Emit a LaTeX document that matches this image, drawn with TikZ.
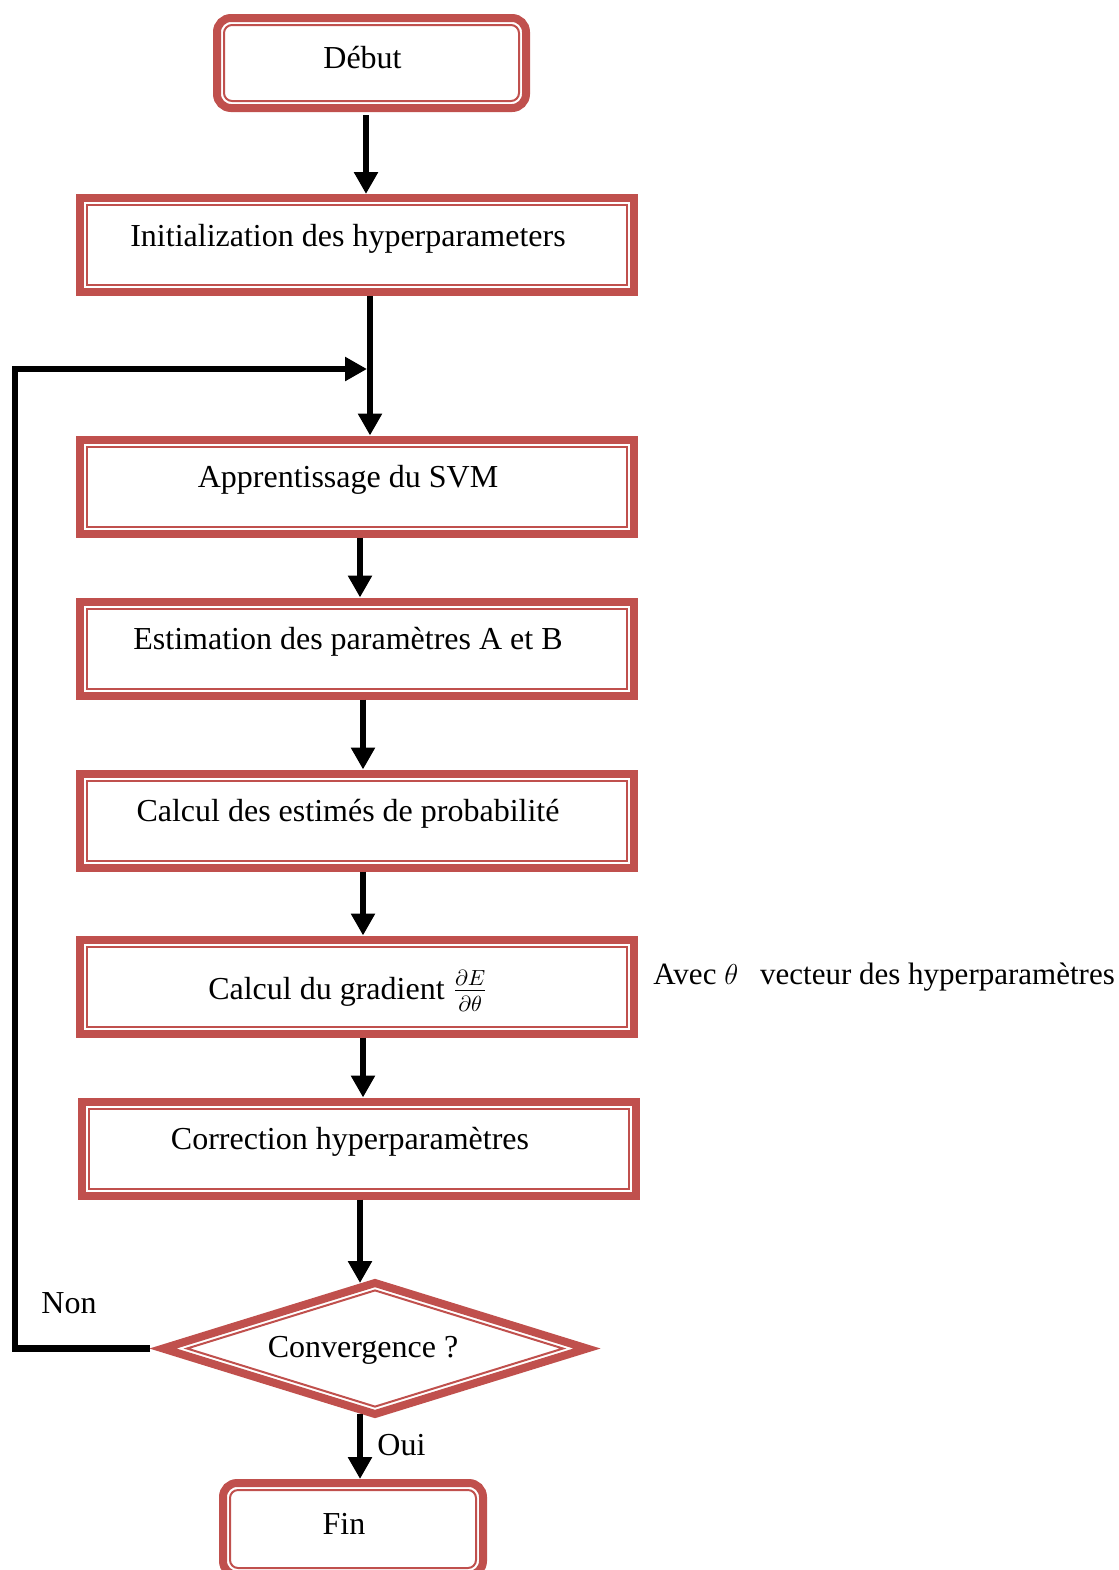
\documentclass[tikz,border=0pt]{standalone}
\usepackage{fontspec}
\setmainfont{Liberation Serif}
\usetikzlibrary{arrows.meta,shapes.geometric}
\definecolor{boxred}{HTML}{C0504D}
\tikzset{
  every node/.style={font=\fontsize{16pt}{19pt}\selectfont},
  stepbox/.style={draw=boxred, line width=4pt, outer sep=2pt, inner sep=0pt,
    minimum width=277pt, minimum height=47pt, text height=11.5pt, text depth=10.5pt,
    execute at end node={\hspace{9pt}}},
  termbox/.style={stepbox, rounded corners=7pt, text height=13.5pt, text depth=8.5pt},
  decision/.style={diamond, draw=boxred, line width=4pt, outer sep=0pt, inner sep=0pt,
    aspect=3.2, minimum width=212pt, minimum height=65.5pt,
    text height=14pt, text depth=5.5pt, execute at end node={\hspace{12pt}}},
  frameline/.style={draw=boxred, line width=1pt},
  arr/.style={line width=3.2pt, -{Triangle[length=11pt,width=11.5pt]}},
  plain/.style={anchor=base west, inner sep=0pt},
}
\begin{document}
\begin{tikzpicture}[x=0.5pt,y=-0.5pt]
\useasboundingbox (0,0) rectangle (1119,1570);
\clip (0,0) rectangle (1119,1570);

% process boxes
\node[termbox, minimum width=154.5pt, minimum height=45pt] (debut) at (371.5,63) {Début};
\node[stepbox] (init) at (357,245) {Initialization des hyperparameters};
\node[stepbox] (appr) at (357,486.5) {Apprentissage du SVM};
\node[stepbox] (estim) at (357,648.5) {Estimation des paramètres A et B};
\node[stepbox] (proba) at (357,820.5) {Calcul des estimés de probabilité};
\node[stepbox, text height=16.5pt, text depth=3.5pt] (grad) at (357,986.5)
  {Calcul du gradient $\frac{\partial E}{\partial\theta}$};
\node[stepbox] (corr) at (359,1148.5) {Correction hyperparamètres};
\node[decision] (conv) at (375,1348.5) {Convergence ?};
\node[termbox, minimum width=130pt, minimum height=46pt] (fin) at (353,1529) {Fin};

% thin inner outlines
\foreach \n in {init,appr,estim,proba,grad,corr}
  \draw[frameline] ([shift={(11,11)}]\n.north west) rectangle ([shift={(-11,-11)}]\n.south east);
\foreach \n in {debut,fin}
  \draw[frameline, rounded corners=4pt] ([shift={(11,11)}]\n.north west) rectangle ([shift={(-11,-11)}]\n.south east);
\draw[frameline] ([yshift=-3.7pt]conv.north) -- ([xshift=-12pt]conv.east)
  -- ([yshift=3.7pt]conv.south) -- ([xshift=12pt]conv.west) -- cycle;

% side labels
\node[plain] (non) at (41,1313) {Non};
\node[plain] (oui) at (377,1455) {Oui};
\node[plain, font=\fontsize{15.5pt}{18pt}\selectfont] (avec) at (653,984)
  {Avec $\theta$\hspace{11pt}vecteur des hyperparamètres};

% connectors
\coordinate (join) at (370,369);
\coordinate (ltop) at (15,369);
\draw[arr, shorten <=1.5pt] ([xshift=-2.75pt]debut.south) -- ([xshift=4.5pt]init.north);
\draw[arr] (init.south -| join) -- (appr.north -| join);
\draw[arr] ([xshift=1.5pt]appr.south) -- ([xshift=1.5pt]estim.north);
\draw[arr] ([xshift=3pt]estim.south) -- ([xshift=3pt]proba.north);
\draw[arr] ([xshift=3pt]proba.south) -- ([xshift=3pt]grad.north);
\draw[arr] ([xshift=3pt]grad.south) -- ([xshift=2pt]corr.north);
\draw[arr] ([xshift=0.5pt]corr.south) -- ([xshift=-7.5pt]conv.north);
\draw[arr] ([xshift=-7.5pt]conv.south) -- ([xshift=3.5pt]fin.north);
\draw[arr, shorten <=6.5pt, shorten >=1.5pt] (conv.west) -| (ltop) -- (join);
\end{tikzpicture}
\end{document}
